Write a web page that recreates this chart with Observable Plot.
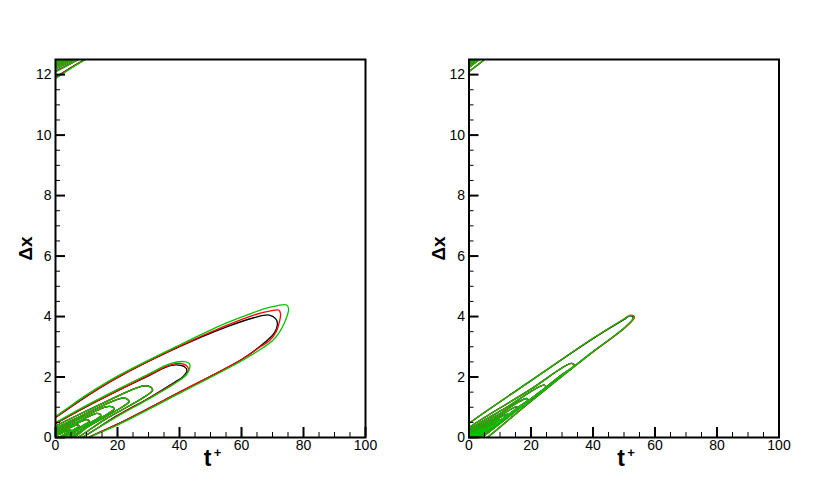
<!DOCTYPE html>
<html><head><meta charset="utf-8">
<script src="https://cdn.jsdelivr.net/npm/d3@7"></script>
<script src="https://cdn.jsdelivr.net/npm/@observablehq/plot@0.6"></script>
<style>
body{margin:0;background:#fff;}
#wrap{position:relative;width:830px;height:492px;overflow:hidden;}
#wrap svg{position:absolute;top:0;}
</style></head><body><div id="wrap"></div>
<script>
// ---- axes ----
const xMajor = [0, 20, 40, 60, 80, 100];
const xMinor = [5, 10, 15, 25, 30, 35, 45, 50, 55, 65, 70, 75, 85, 90, 95];
const yMajor = [0, 2, 4, 6, 8, 10, 12];
const yMinor = [0.5, 1, 1.5, 2.5, 3, 3.5, 4.5, 5, 5.5, 6.5, 7, 7.5, 8.5, 9, 9.5, 10.5, 11, 11.5];
const xLabel = "t";
const yLabel = "Δx";
const periodDx = 12.57; // contours repeat at Δx + period (top-left corner)

// ---- contour lines: [t+, Δx] points of the first-quadrant half,
//      from the Δx-axis crossing, over the tip, to the t+-axis crossing ----
const leftBlackOuter = [
  [[0,0.66],[10,1.36],[20,1.98],[40,3.0],[55,3.65],[64,3.96],[68.9,4.05],[71.0,3.93],[71.6,3.76],[70.6,3.46],[66.2,3.03],[60,2.58],[40,1.50],[20,0.44],[10.7,0]],
  [[0,0.46],[10,1.02],[20,1.54],[30,2.04],[35.5,2.32],[38.8,2.40],[41.6,2.34],[42.4,2.22],[41.2,2.02],[38,1.80],[30,1.30],[20,0.73],[8.6,0]]
];
const leftInner = [
  [[0,0.38],[8,0.78],[16,1.17],[24,1.55],[28.5,1.71],[30.8,1.66],[31.3,1.56],[29.5,1.40],[24,1.06],[16,0.60],[7.2,0]],
  [[0,0.31],[6,0.60],[12,0.90],[18,1.18],[21.6,1.30],[23.3,1.26],[23.7,1.18],[22,1.04],[16,0.68],[10,0.32],[5.9,0]],
  [[0,0.25],[5,0.49],[10,0.73],[14.5,0.95],[17.2,1.03],[18.6,1.0],[18.9,0.94],[17.4,0.82],[12,0.49],[4.8,0]],
  [[0,0.19],[4,0.38],[8,0.56],[11.5,0.73],[13.3,0.80],[14.4,0.77],[14.6,0.72],[13.4,0.62],[9,0.36],[3.7,0]],
  [[0,0.14],[3,0.28],[6,0.42],[8.5,0.54],[9.9,0.59],[10.7,0.57],[10.8,0.53],[9.8,0.45],[6.5,0.25],[2.6,0]],
  [[0,0.09],[2,0.19],[4,0.29],[6,0.38],[7.0,0.42],[7.5,0.40],[7.6,0.37],[6.8,0.31],[4.5,0.17],[1.7,0]],
  [[0,0.05],[1.5,0.12],[3,0.19],[4.3,0.26],[4.8,0.26],[4.9,0.24],[4.3,0.2],[2.8,0.1],[0.9,0]]
];
const leftRedOuter = [
  [[0,0.67],[10,1.37],[20,1.99],[40,3.02],[55,3.70],[64,4.05],[69,4.18],[72.1,4.21],[72.6,4.08],[72.3,3.85],[71.2,3.50],[69,3.20],[66.2,3.01],[60,2.58],[40,1.50],[20,0.44],[10.7,0]],
  [[0,0.47],[10,1.03],[20,1.55],[30,2.06],[36,2.36],[39.5,2.45],[42.2,2.38],[42.9,2.26],[41.8,2.04],[38.4,1.80],[30,1.29],[20,0.72],[8.6,0]]
];
const leftGreenOuter = [
  [[0,0.70],[10,1.41],[20,2.03],[40,3.06],[55,3.78],[63,4.10],[69,4.30],[74.6,4.38],[75.2,4.24],[74.8,4.05],[73.8,3.78],[72.2,3.48],[69.8,3.18],[66.8,2.96],[60,2.53],[40,1.46],[20,0.41],[10.9,0]],
  [[0,0.49],[10,1.06],[20,1.59],[30,2.10],[37,2.44],[41.5,2.51],[43.1,2.45],[43.4,2.36],[42.4,2.10],[39,1.82],[30,1.27],[20,0.70],[8.5,0]]
];
const rightInner = [
  [[0,0.33],[20,1.60],[33,2.45],[33.9,2.38],[30,2.08],[20,1.27],[4.2,0]],
  [[0,0.26],[12,0.99],[24.2,1.73],[24.8,1.66],[22,1.44],[12,0.67],[3.3,0]],
  [[0,0.20],[9,0.73],[18.5,1.29],[19.0,1.24],[17,1.08],[9,0.48],[2.6,0]],
  [[0,0.15],[8,0.60],[15.3,1.01],[15.7,0.97],[14,0.84],[8,0.42],[2.0,0]],
  [[0,0.11],[6,0.43],[12.4,0.77],[12.8,0.74],[11.4,0.64],[6,0.29],[1.5,0]],
  [[0,0.08],[5,0.33],[9.8,0.57],[10.1,0.55],[9,0.48],[5,0.24],[1.1,0]],
  [[0,0.05],[4,0.24],[7.4,0.40],[7.6,0.38],[6.8,0.33],[4,0.18],[0.7,0]],
  [[0,0.03],[2.5,0.16],[4.8,0.26],[5.0,0.25],[4.4,0.21],[2.5,0.12],[0.4,0]]
];
const rightBlackOuter = [[0,0.47],[20,1.88],[40,3.27],[50,3.90],[51.8,4.02],[53.0,3.96],[50,3.61],[40,2.84],[20,1.20],[5.9,0]];
const rightRedOuter   = [[0,0.47],[20,1.88],[40,3.28],[50,3.92],[52.2,4.05],[53.4,3.98],[50,3.60],[40,2.83],[20,1.20],[5.9,0]];
const rightGreenOuter = [[0,0.47],[20,1.88],[40,3.28],[50,3.92],[52,4.04],[53.2,3.98],[50,3.62],[40,2.84],[20,1.20],[5.9,0]];

const colBlack = "#000000", colRed = "#ff0000", colGreen = "#00c400";

// closed contour: read half plus its point reflection (R(Δx,t) = R(-Δx,-t)),
// drawn at Δx and at Δx + period
function contourRows(contours, series) {
  const rows = [];
  contours.forEach((pts, i) => {
    const loop = pts.concat(pts.map(([t, x]) => [-t, -x]));
    [0, periodDx].forEach((shift, k) => {
      loop.forEach(([t, x]) => rows.push({t, dx: x + shift, id: series + "-" + i + "-" + k}));
    });
  });
  return rows;
}

function panel(left, mL, mR, sets) {
  const W = 415, H = 492, mT = 59, mB = 55;
  const pw = W - mL - mR, ph = H - mT - mB;
  const marks = [];
  sets.forEach(s => {
    marks.push(Plot.line(contourRows(s.data, s.name),
      {x: "t", y: "dx", z: "id", stroke: s.color, strokeWidth: 1.3, clip: true, curve: "catmull-rom-closed"}));
  });
  marks.push(
    Plot.tickX(xMinor, {x: d => d, insetTop: ph - 5, stroke: "#000", strokeWidth: 1}),
    Plot.tickX(xMajor, {x: d => d, insetTop: ph - 10, stroke: "#000", strokeWidth: 2}),
    Plot.tickY(yMinor, {y: d => d, insetRight: pw - 5, stroke: "#000", strokeWidth: 1}),
    Plot.tickY(yMajor, {y: d => d, insetRight: pw - 10, stroke: "#000", strokeWidth: 2}),
    Plot.axisX({ticks: xMajor, tickSize: 0, tickPadding: 3, tickFormat: d => String(d), fontSize: 14, label: null}),
    Plot.axisY({ticks: yMajor, tickSize: 0, tickPadding: 4, tickFormat: d => String(d), fontSize: 14, label: null}),
    Plot.frame({stroke: "#000", strokeWidth: 2}),
    Plot.text([xLabel], {frameAnchor: "bottom", text: d => d, dx: -3, dy: 28, fontSize: 23, fontWeight: "bold", textAnchor: "middle"}),
    Plot.text(["+"], {frameAnchor: "bottom", text: d => d, dx: 7, dy: 19, fontSize: 13, fontWeight: "bold", textAnchor: "middle"}),
    Plot.text([yLabel], {frameAnchor: "left", text: d => d, dx: -30, rotate: -90, fontSize: 19, fontWeight: "bold", textAnchor: "middle"})
  );
  const svg = Plot.plot({
    width: W, height: H, marginLeft: mL, marginRight: mR, marginTop: mT, marginBottom: mB,
    x: {domain: [0, 100], axis: null},
    y: {domain: [0, 12.5], axis: null},
    style: {fontFamily: "'Liberation Sans', Arial, sans-serif", fontSize: "14px", color: "#000", background: "transparent"},
    marks
  });
  svg.style.left = left + "px";
  document.getElementById("wrap").appendChild(svg);
}

panel(0, 55, 50, [
  {name: "black", color: colBlack, data: leftBlackOuter.concat(leftInner)},
  {name: "red", color: colRed, data: leftRedOuter.concat(leftInner)},
  {name: "green", color: colGreen, data: leftGreenOuter.concat(leftInner)}
]);
panel(415, 53.5, 51.5, [
  {name: "black", color: colBlack, data: [rightBlackOuter].concat(rightInner)},
  {name: "red", color: colRed, data: [rightRedOuter].concat(rightInner)},
  {name: "green", color: colGreen, data: [rightGreenOuter].concat(rightInner)}
]);
</script></body></html>
